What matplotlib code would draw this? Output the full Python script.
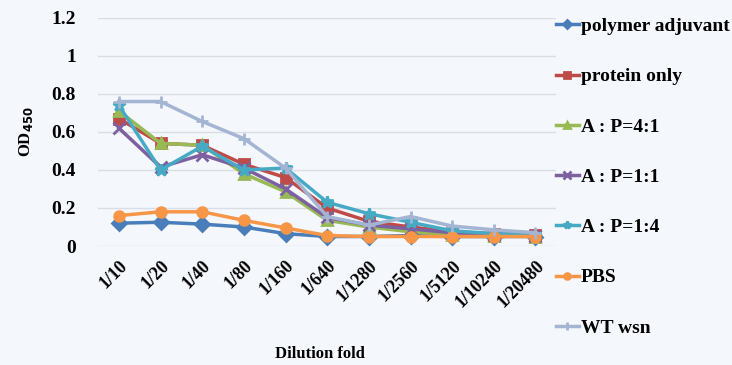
import numpy as np
import matplotlib.pyplot as plt

# dilution categories
dilutions = ['1/10', '1/20', '1/40', '1/80', '1/160', '1/640', '1/1280',
             '1/2560', '1/5120', '1/10240', '1/20480']

# OD450 readings per group
polymer_adjuvant = [0.12, 0.125, 0.115, 0.10, 0.065, 0.05, 0.05, 0.055, 0.05, 0.05, 0.05]
protein_only = [0.67, 0.54, 0.53, 0.43, 0.36, 0.20, 0.13, 0.10, 0.075, 0.065, 0.06]
ap_4_1 = [0.71, 0.54, 0.53, 0.38, 0.285, 0.135, 0.10, 0.075, 0.06, 0.055, 0.05]
ap_1_1 = [0.62, 0.415, 0.48, 0.41, 0.30, 0.15, 0.11, 0.09, 0.07, 0.06, 0.055]
ap_1_4 = [0.74, 0.40, 0.525, 0.40, 0.41, 0.23, 0.17, 0.125, 0.08, 0.065, 0.06]
pbs = [0.16, 0.18, 0.18, 0.135, 0.095, 0.055, 0.05, 0.05, 0.05, 0.05, 0.05]
wt_wsn = [0.76, 0.76, 0.655, 0.565, 0.41, 0.155, 0.11, 0.155, 0.105, 0.085, 0.07]

series = [
    ('polymer adjuvant', polymer_adjuvant, '#4A7EBB', 'D'),
    ('protein only', protein_only, '#BE4B48', 's'),
    ('A : P=4:1', ap_4_1, '#98B954', '^'),
    ('A : P=1:1', ap_1_1, '#7D60A0', 'x'),
    ('A : P=1:4', ap_1_4, '#46AAC5', '*'),
    ('PBS', pbs, '#F79646', 'o'),
    ('WT wsn', wt_wsn, '#A3B5D3', '+'),
]

plt.rcParams['font.family'] = ['Liberation Serif', 'DejaVu Serif']
plt.rcParams['font.weight'] = 'bold'

fig = plt.figure(figsize=(7.32, 3.65), dpi=100)
fig.patch.set_facecolor('#F4F7FB')
ax = fig.add_axes([0.134, 0.326, 0.626, 0.625])
ax.set_facecolor('#F4F7FB')

x = np.arange(len(dilutions))
for name, vals, col, mk in series:
    ms = 9 if mk in ('*', '+', 'x') else 7
    ax.plot(x, vals, color=col, lw=2.5, marker=mk, ms=ms, mew=2,
            label=name)

ax.set_xlim(-0.5, len(dilutions) - 0.5)
ax.set_ylim(0, 1.2)
ax.set_yticks(np.arange(0, 1.21, 0.2))
ax.set_yticklabels(['0', '0.2', '0.4', '0.6', '0.8', '1', '1.2'],
                   fontsize=14, fontweight='bold')
ax.set_xticks(x)
ax.set_xticklabels(dilutions, rotation=45, ha='right', rotation_mode='anchor',
                   fontsize=13, fontweight='bold')
ax.tick_params(axis='y', length=0, pad=16)
ax.tick_params(axis='x', length=0, pad=8)
ax.grid(axis='y', color='#DADDE3', lw=1)
ax.set_axisbelow(True)
for s in ax.spines.values():
    s.set_visible(False)

ax.set_ylabel('OD$_{\\mathbf{450}}$', fontsize=12, fontweight='bold', labelpad=12)
fig.text(0.437, 0.02, 'Dilution fold', ha='center', fontsize=12, fontweight='bold')

fig.legend(loc='upper left', bbox_to_anchor=(0.735, 1.0), frameon=False,
           fontsize=14, handlelength=1.2, handletextpad=0.1, labelspacing=1.68,
           markerscale=0.6)

fig.savefig('out.png', dpi=100, facecolor=fig.get_facecolor())
